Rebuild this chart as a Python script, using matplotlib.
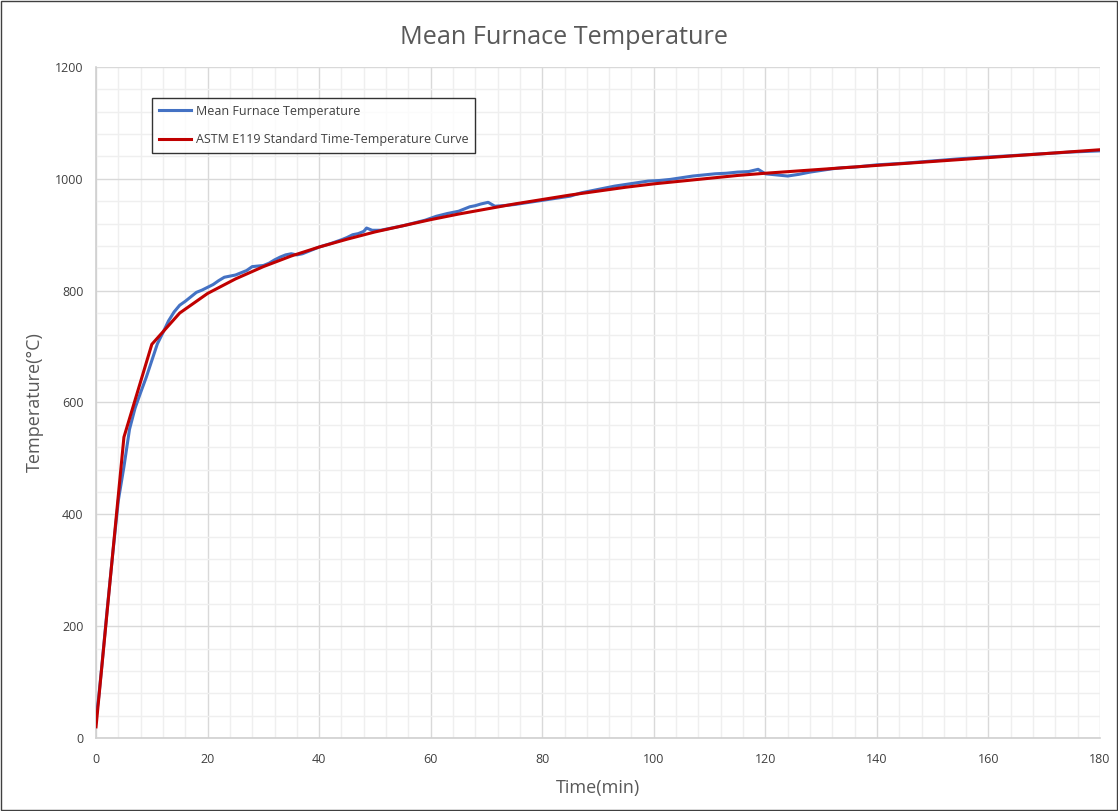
import numpy as np
import matplotlib.pyplot as plt
from matplotlib.ticker import MultipleLocator
from matplotlib.patches import Rectangle

#==============================
# Data
#==============================
# ASTM E119 standard time-temperature curve (min, °C)
astm_time = [0, 5, 10, 15, 20, 25, 30, 35, 40, 45, 50, 55, 60, 65, 70, 75, 80, 85,
             90, 95, 100, 105, 110, 115, 120, 130, 140, 150, 160, 170, 180]
astm_temp = [20, 538, 704, 760, 795, 821, 843, 862, 878, 892, 905, 916, 927, 937,
             946, 955, 963, 971, 978, 985, 991, 996, 1001, 1006, 1010, 1017, 1024,
             1031, 1038, 1045, 1052]

furnace_time = [0, 0.5, 1, 2, 3, 4, 5, 6, 7, 8, 9, 10,
                11, 12, 13, 14, 15, 16, 17, 18, 19, 20, 21, 22, 23, 24, 25, 26, 27, 28,
                29, 30, 31, 32, 33, 34, 35, 36, 37, 38,
                40, 42, 44, 45, 46, 47, 48, 48.5, 49.5, 51, 53, 55, 57, 59, 61, 63, 65,
                66, 67, 68, 69, 70.3, 71.5, 73,
                75, 77, 79, 81, 83, 85, 87, 89, 91, 93, 95, 97, 99, 101, 103, 105, 107,
                109, 111, 113, 115, 117,
                118.7, 120, 122, 124, 126, 128, 130, 132, 134, 136, 138, 140,
                145, 150, 155, 160, 165, 170, 175, 180]
furnace_temp = [35, 75, 125, 230, 330, 425, 485, 552, 590, 618, 645, 675,
                705, 725, 746, 762, 774, 781, 789, 797, 801, 806, 811, 818, 824, 826,
                828, 832, 836, 843, 844, 845, 849, 855, 860, 864, 866, 864, 866, 870,
                878, 884, 891, 895, 900, 902, 906, 912, 908, 908, 912, 916, 921, 926,
                933, 938, 942, 946, 950, 952, 955, 958, 951, 952,
                954, 957, 960, 963, 966, 969, 975, 979, 983, 987, 990, 993, 996, 997,
                999, 1002, 1005, 1007, 1009, 1010, 1012, 1013,
                1017, 1009, 1007, 1005, 1008, 1012, 1015, 1018, 1020, 1021, 1023, 1025,
                1028, 1032, 1036, 1039, 1042, 1045, 1048, 1050]

#==============================
# Figure
#==============================
plt.rcParams['font.family'] = ['Open Sans', 'DejaVu Sans']

fig = plt.figure(figsize=(11.18, 8.11), dpi=100)
ax = fig.add_axes([0.0859, 0.09, 0.898, 0.8274])

ax.plot(furnace_time, furnace_temp, color='#4472C4', lw=2.2, label='Mean Furnace Temperature', zorder=3)
ax.plot(astm_time, astm_temp, color='#C00000', lw=2.2, label='ASTM E119 Standard Time-Temperature Curve', zorder=4)

ax.set_xlim(0, 180)
ax.set_ylim(0, 1200)
ax.xaxis.set_major_locator(MultipleLocator(20))
ax.xaxis.set_minor_locator(MultipleLocator(4))
ax.yaxis.set_major_locator(MultipleLocator(200))
ax.yaxis.set_minor_locator(MultipleLocator(40))
ax.grid(which='major', color='#d9d9d9', lw=1.0)
ax.grid(which='minor', color='#efefef', lw=1.0)
ax.set_axisbelow(True)
ax.tick_params(which='both', length=0, labelsize=9, colors='#404040')
ax.tick_params(axis='x', pad=11)
ax.tick_params(axis='y', pad=9)

for s in ['top', 'right']:
    ax.spines[s].set_visible(False)
for s in ['left', 'bottom']:
    ax.spines[s].set_color('#d0d0d0')
    ax.spines[s].set_linewidth(1.2)

# title is centred on the whole chart, not the plot area
fig.text(564 / 1118, 1 - 38 / 811, 'Mean Furnace Temperature', fontsize=18.2,
         color='#595959', ha='center', va='center')
ax.set_xlabel('Time(min)', fontsize=13, color='#595959', labelpad=9)
ax.set_ylabel('Temperature(°C)', fontsize=13, color='#595959', labelpad=8)

leg = ax.legend(loc='upper left', bbox_to_anchor=(0.0558, 0.9538), fontsize=9,
                frameon=True, fancybox=False, edgecolor='black', handlelength=2.6,
                labelspacing=1.25, borderpad=0.55, handletextpad=0.35, borderaxespad=0,
                labelcolor='#404040')
leg.get_frame().set_linewidth(1.0)

# outer border of the chart area
fig.patches.append(Rectangle((0.001, 0.001), 0.998, 0.998, transform=fig.transFigure,
                             fill=False, edgecolor='#404040', lw=1.0))

plt.savefig('out.png', dpi=100)
